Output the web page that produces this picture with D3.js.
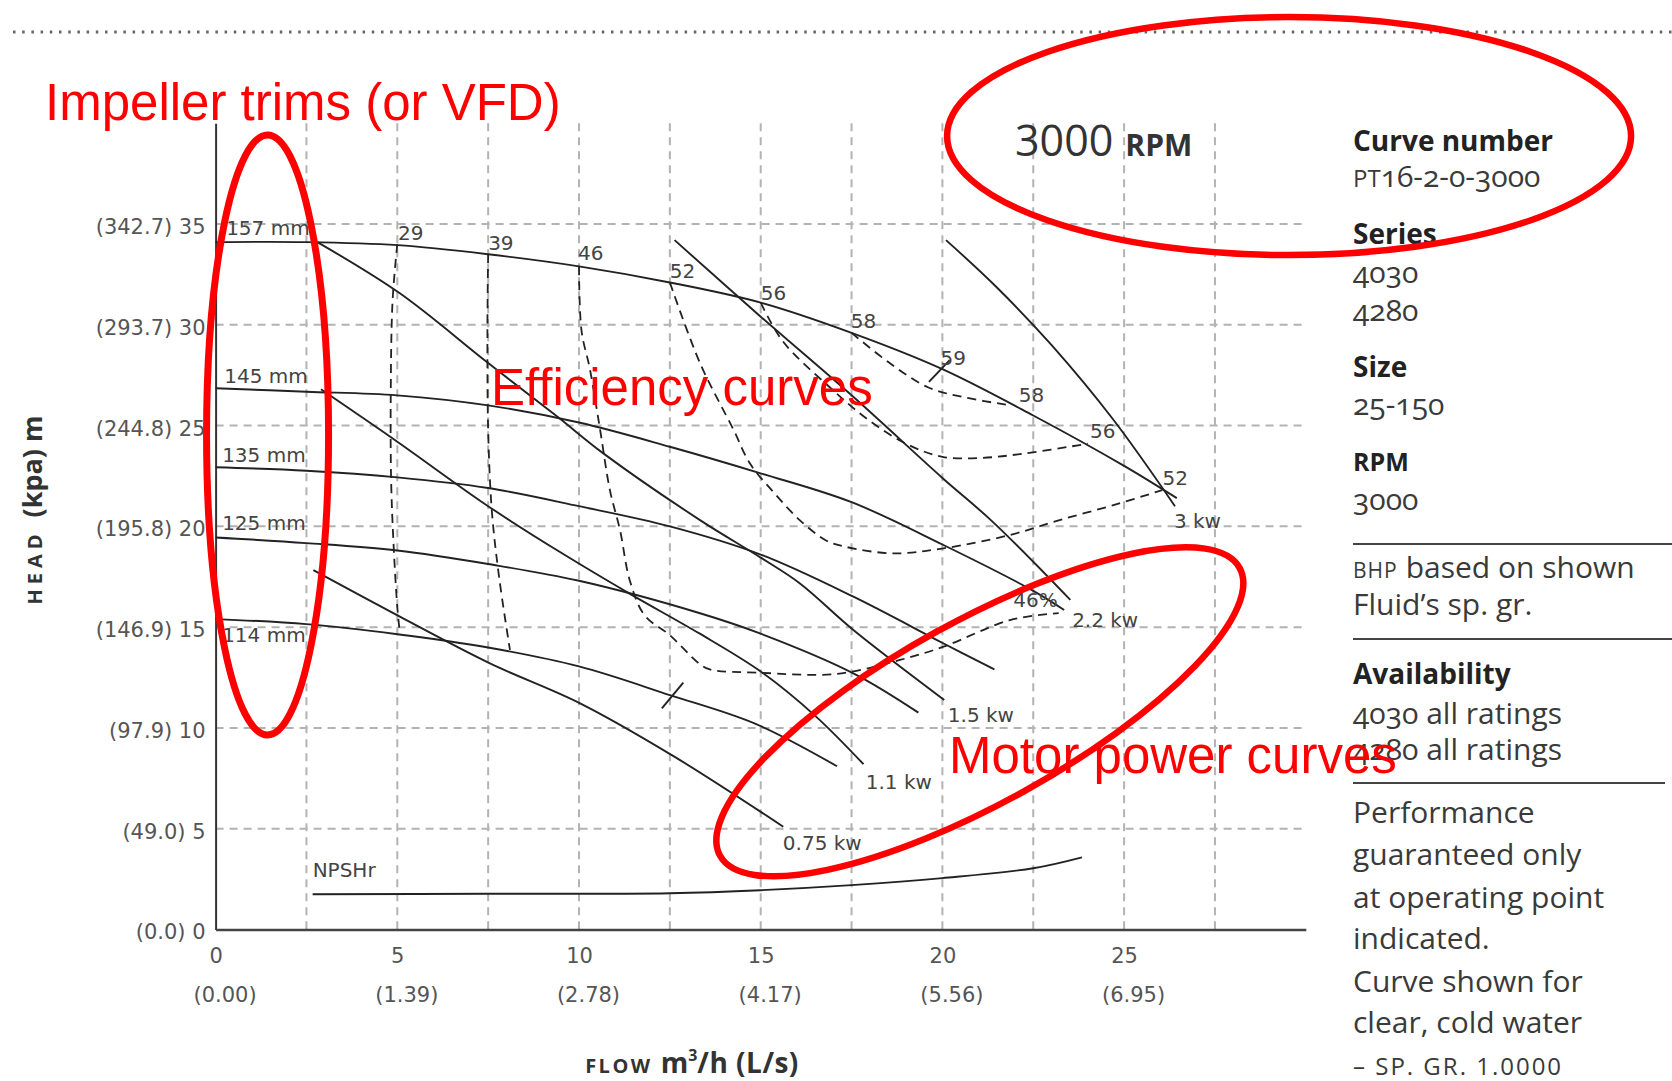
<!DOCTYPE html>
<html><head><meta charset="utf-8">
<script src="https://cdn.jsdelivr.net/npm/d3@7"></script>
<style>
body{margin:0;background:#fff}
svg{display:block}
</style>
</head><body>
<svg id="c" width="1672" height="1081"></svg>
<script>
// ---------------- DATA ----------------
const flowTicks = [0, 5, 10, 15, 20, 25];
const flowLsLabels = ["(0.00)", "(1.39)", "(2.78)", "(4.17)", "(5.56)", "(6.95)"];
const headTicks = [0, 5, 10, 15, 20, 25, 30, 35];
const headKpaLabels = ["(0.0)", "(49.0)", "(97.9)", "(146.9)", "(195.8)", "(244.8)", "(293.7)", "(342.7)"];
const gridFlows = [2.5, 5, 7.5, 10, 12.5, 15, 17.5, 20, 22.5, 25, 27.5];
const gridHeads = [5, 10, 15, 20, 25, 30, 35];

// impeller trims: [flow m3/h, head m]
const trimNames = ["157 mm", "145 mm", "135 mm", "125 mm", "114 mm"];
const trim157 = [[0,34.1],[2.5,34.1],[5,33.95],[7.5,33.5],[10,32.9],[12.5,32.1],[15,31.1],[17.5,29.6],[20,27.8],[22.5,25.5],[25,23.0],[26.45,21.4]];
const trim145 = [[0,26.85],[2.5,26.68],[5,26.5],[7.5,26.0],[10,25.15],[12.5,23.95],[15,22.63],[17.5,21.2],[20,19.1],[22.5,16.8],[23.35,15.85]];
const trim135 = [[0,22.93],[2.5,22.76],[5,22.43],[7.5,21.9],[10,21.0],[12.5,20.0],[15,18.6],[17.55,16.51],[20.02,14.2],[21.43,12.9]];
const trim125 = [[0,19.45],[2.5,19.17],[5,18.8],[7.5,18.13],[10,17.3],[13.33,15.69],[14.98,14.69],[17.55,12.71],[19.34,10.76]];
const trim114 = [[0,15.4],[2.5,15.15],[5,14.65],[7.5,13.99],[10,13.05],[12.5,11.63],[14.86,10.2],[17.1,8.1]];

// motor power lines
const powerNames = ["0.75 kw", "1.1 kw", "1.5 kw", "2.2 kw", "3 kw"];
const pow075 = [[2.69,17.83],[5.07,15.52],[7.55,13.2],[10.03,11.22],[12.6,8.6],[15.62,5.1]];
const pow110 = [[2.9,26.8],[5,24.2],[7.5,21.0],[9.5,18.7],[11.45,16.6],[13.3,14.7],[15,12.8],[16.5,10.6],[17.83,8.2]];
const pow150 = [[2.8,34.1],[5.07,31.56],[7.5,28.1],[9.4,25.45],[10.67,23.62],[13.33,20.31],[15,18.45],[16.08,17.17],[17.55,14.86],[20.05,11.39]];
const pow220 = [[12.63,34.2],[15,30.4],[17.5,26.5],[20,22.4],[21.4,20.2],[23.52,16.35]];
const pow300 = [[20.1,34.2],[21.5,31.85],[23.0,29.0],[24.7,25.3],[26.4,21.0]];

// efficiency iso-lines (dashed)
const eff29 = [[5.0,34.0],[4.87,31.2],[4.82,26.6],[4.83,22.3],[4.9,19.0],[5.0,16.0],[5.07,14.69]];
const eff39 = [[7.5,33.5],[7.48,29.7],[7.5,24.8],[7.6,20.8],[7.8,17.5],[8.1,13.87]];
const eff46 = [[10.0,32.9],[10.07,29.7],[10.3,27.8],[10.58,24.8],[10.85,21.8],[11.13,19.8],[11.4,17.3],[11.8,15.6],[12.5,14.6],[13.3,13.2],[13.6,12.9],[14.97,12.74],[17.09,12.68],[18.83,13.37],[20.03,14.03],[21.86,15.35],[23.2,15.7]];
const eff52 = [[12.5,32.1],[13.33,28.1],[14.25,24.8],[14.71,23.1],[15.4,21.6],[16.08,20.3],[16.8,19.3],[17.3,19.0],[18.65,18.66],[20.03,18.91],[21.86,19.57],[23.2,20.3],[24.8,21.1],[26.05,21.8]];
const eff56 = [[15.0,31.1],[15.6,29.2],[16.9,26.9],[17.95,25.3],[19.0,24.1],[20.0,23.45],[21.1,23.4],[22.2,23.6],[24.0,24.1]];
const eff58 = [[17.5,29.6],[18.55,28.1],[19.6,26.9],[20.6,26.4],[21.9,26.0]];
const eff59Tick = [[19.63,27.17],[20.2,28.25]];
const bepTick114 = [[12.28,10.97],[12.87,12.25]];

// NPSHr
const npshr = [[2.67,1.75],[7.5,1.77],[12.5,1.8],[15,1.95],[17.5,2.2],[20,2.55],[22.5,3.04],[23.84,3.58]];

// annotation labels: [text, flow, head]
const curveLabels = [
  ["157 mm",0.29,34.45],["145 mm",0.24,27.09],["135 mm",0.18,23.19],["125 mm",0.18,19.82],["114 mm",0.18,14.26],
  ["29",5.02,34.2],["39",7.5,33.7],["46",9.97,33.2],["52",12.5,32.32],["56",15.0,31.23],["58",17.48,29.84],
  ["59",19.95,28.0],["58",22.1,26.18],["56",24.06,24.38],["52",26.06,22.05],["46%",21.95,16.0],
  ["3 kw",26.37,19.91],["2.2 kw",23.57,15.0],["1.5 kw",20.15,10.29],["1.1 kw",17.89,6.97],["0.75 kw",15.61,3.94],
  ["NPSHr",2.67,2.62]
];

// ---------------- DRAW ----------------
const svg = d3.select("#c");
const x = d3.scaleLinear().domain([0, 30]).range([215.6, 1305.8]);
const y = d3.scaleLinear().domain([0, 40]).range([929.5, 123.2]);
const LF = "'DejaVu Sans', sans-serif";

// top dotted rule
svg.append("line").attr("x1", 13).attr("x2", 1672).attr("y1", 32).attr("y2", 32)
  .attr("stroke", "#666").attr("stroke-width", 3).attr("stroke-dasharray", "2.5,6.7");

// grid
const grid = svg.append("g").attr("stroke", "#b3b3b3").attr("stroke-width", 2).attr("stroke-dasharray", "8,6");
grid.selectAll(".v").data(gridFlows).join("line")
  .attr("x1", d => x(d)).attr("x2", d => x(d)).attr("y1", y(40)).attr("y2", y(0));
grid.selectAll(".h").data(gridHeads).join("line")
  .attr("x1", x(0)).attr("x2", x(30)).attr("y1", d => y(d)).attr("y2", d => y(d));

// axes
const yAxis = d3.axisLeft(y).tickValues(headTicks).tickSize(0).tickPadding(10)
  .tickFormat((d, i) => headKpaLabels[i] + " " + d);
const gy = svg.append("g").attr("transform", `translate(${x(0)},0)`).call(yAxis);
gy.select(".domain").attr("stroke", "#333").attr("stroke-width", 2);
gy.selectAll("text").attr("font-family", LF).attr("font-size", 21).attr("fill", "#555").attr("dy", "0.45em");

const xAxis = d3.axisBottom(x).tickValues(flowTicks).tickSize(0).tickPadding(19).tickFormat(d => d);
const gx = svg.append("g").attr("transform", `translate(0,${y(0)})`).call(xAxis);
gx.select(".domain").attr("stroke", "#444").attr("stroke-width", 2.5);
gx.selectAll("text").attr("font-family", LF).attr("font-size", 21).attr("fill", "#555");

const xAxis2 = d3.axisBottom(x).tickValues(flowTicks).tickSize(0).tickPadding(58).tickFormat((d, i) => flowLsLabels[i]);
const gx2 = svg.append("g").attr("transform", `translate(9,${y(0)})`).call(xAxis2);
gx2.select(".domain").remove();
gx2.selectAll("text").attr("font-family", LF).attr("font-size", 21).attr("fill", "#555");

// axis titles
const yt = svg.append("text").attr("transform", "translate(42,510) rotate(-90)")
  .attr("text-anchor", "middle").attr("font-family", "'Open Sans', sans-serif").attr("font-weight", 700).attr("fill", "#333");
yt.append("tspan").attr("font-size", 20).attr("letter-spacing", 5).text("HEAD");
yt.append("tspan").attr("font-size", 27).attr("dx", 12).text("(kpa) m");

const xt = svg.append("text").attr("x", 692).attr("y", 1073)
  .attr("text-anchor", "middle").attr("font-family", "'Open Sans', sans-serif").attr("font-weight", 700).attr("fill", "#333");
xt.append("tspan").attr("font-size", 20).attr("letter-spacing", 2.5).text("FLOW");
xt.append("tspan").attr("font-size", 28).attr("dx", 8).text("m");
xt.append("tspan").attr("font-size", 16).attr("dy", -12).text("3");
xt.append("tspan").attr("font-size", 28).attr("dy", 12).attr("letter-spacing", 0.5).text("/h (L/s)");

// curves
const line = d3.line().x(d => x(d[0])).y(d => y(d[1])).curve(d3.curveCatmullRom.alpha(0.5));
const solid = [trim157, trim145, trim135, trim125, trim114, pow075, pow110, pow150, pow220, pow300, npshr];
svg.append("g").selectAll("path").data(solid).join("path")
  .attr("d", line).attr("fill", "none").attr("stroke", "#222").attr("stroke-width", 1.9);
const ticks = [eff59Tick, bepTick114];
svg.append("g").selectAll("path").data(ticks).join("path")
  .attr("d", d3.line().x(d => x(d[0])).y(d => y(d[1]))).attr("fill", "none").attr("stroke", "#222").attr("stroke-width", 1.9);
const effs = [eff29, eff39, eff46, eff52, eff56, eff58];
svg.append("g").selectAll("path").data(effs).join("path")
  .attr("d", line).attr("fill", "none").attr("stroke", "#222").attr("stroke-width", 1.8).attr("stroke-dasharray", "9,6");

// curve labels
svg.append("g").selectAll("text").data(curveLabels).join("text")
  .attr("x", d => x(d[1])).attr("y", d => y(d[2])).text(d => d[0])
  .attr("font-family", LF).attr("font-size", 20).attr("fill", "#444");

// RPM title
const rt = svg.append("text").attr("x", 1015).attr("y", 156).attr("font-family", "'Open Sans', sans-serif").attr("fill", "#333");
rt.append("tspan").attr("font-size", 43).text("3000");
rt.append("tspan").attr("font-size", 30).attr("font-weight", 700).attr("dx", 12).text("RPM");

// right info panel
const panelLines = [
  {t: "Curve number", y: 151, b: true},
  {t: "PT16-2-0-3000", y: 187},
  {t: "Series", y: 244, b: true},
  {t: "4030", y: 283},
  {t: "4280", y: 321},
  {t: "Size", y: 377, b: true},
  {t: "25-150", y: 415},
  {t: "RPM", y: 471, b: true, s: 25},
  {t: "3000", y: 510},
  {t: "based on shown", y: 578, pre: "BHP"},
  {t: "Fluid’s sp. gr.", y: 615},
  {t: "Availability", y: 684, b: true},
  {t: "4030 all ratings", y: 724},
  {t: "4280 all ratings", y: 760},
  {t: "Performance", y: 823},
  {t: "guaranteed only", y: 865},
  {t: "at operating point", y: 908},
  {t: "indicated.", y: 949},
  {t: "Curve shown for", y: 992},
  {t: "clear, cold water", y: 1033},
  {t: "– SP. GR. 1.0000", y: 1075, sc: true}
];
const pg = svg.append("g").attr("font-family", "'Open Sans', sans-serif");
panelLines.forEach(p => {
  const t = pg.append("text").attr("x", 1353).attr("y", p.y).attr("fill", p.b ? "#222" : "#3a3a3a")
    .style("font-variant-numeric", p.sc ? "lining-nums" : "oldstyle-nums");
  if (p.b) { t.attr("font-weight", 700).attr("font-size", p.s || 28).text(p.t); }
  else if (p.pre) {
    t.append("tspan").attr("font-size", 21).attr("letter-spacing", 1).text(p.pre);
    t.append("tspan").attr("font-size", 30).attr("dx", 8).text(p.t);
  } else if (p.sc) {
    t.attr("font-size", 24).attr("letter-spacing", 2).text(p.t);
  } else if (p.t.startsWith("PT")) {
    t.append("tspan").attr("font-size", 24).text("PT");
    t.append("tspan").attr("font-size", 30).text(p.t.slice(2));
  } else { t.attr("font-size", 30).text(p.t); }
});
[[544, 1672], [639, 1672], [783, 1665]].forEach(r => {
  pg.append("line").attr("x1", 1353).attr("x2", r[1]).attr("y1", r[0]).attr("y2", r[0])
    .attr("stroke", "#444").attr("stroke-width", 2);
});

// red overlay annotations
const red = svg.append("g");
red.append("ellipse").attr("cx", x(1.43)).attr("cy", y(24.53)).attr("rx", 61).attr("ry", 300)
  .attr("fill", "none").attr("stroke", "#ff0000").attr("stroke-width", 7);
red.append("ellipse").attr("cx", x(29.54)).attr("cy", y(39.36)).attr("rx", 342).attr("ry", 119)
  .attr("fill", "none").attr("stroke", "#ff0000").attr("stroke-width", 6.5);
red.append("ellipse").attr("rx", 297).attr("ry", 91)
  .attr("transform", `translate(${x(21.03)},${y(10.8)}) rotate(-29)`)
  .attr("fill", "none").attr("stroke", "#ff0000").attr("stroke-width", 6.5);
const RF = "'Liberation Sans', Arial, sans-serif";
[["Impeller trims (or VFD)", 45, 120], ["Efficiency curves", 491, 405], ["Motor power curves", 949, 773]].forEach(a => {
  red.append("text").attr("x", a[1]).attr("y", a[2]).attr("font-family", RF).attr("font-size", 51)
    .attr("fill", "#ff0000").text(a[0]);
});
</script>
</body></html>
